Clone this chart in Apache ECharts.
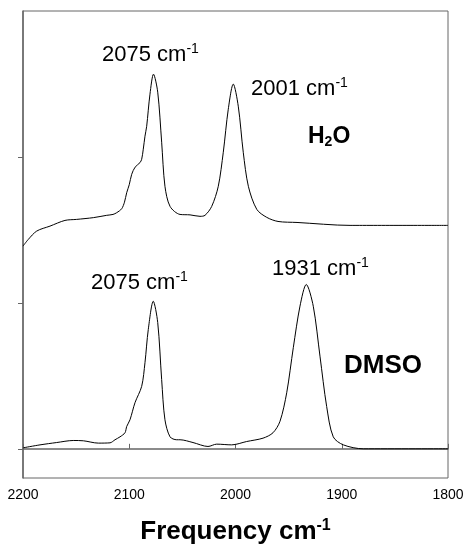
<!DOCTYPE html>
<html>
<head>
<meta charset="utf-8">
<script src="https://cdn.jsdelivr.net/npm/echarts@6/dist/echarts.min.js"></script>
<style>html,body{margin:0;padding:0;background:#fff;}#c{width:465px;height:544px;}</style>
</head>
<body>
<div id="c"></div>
<script>
// Frequency (cm-1) and intensity (offset units)
const h2oFreq = [2200, 2195.0, 2187.1, 2174.6, 2160.5, 2149.5, 2133.8, 2121.2, 2115.3, 2111.8, 2107.1, 2104.5, 2102.4, 2100.0, 2097.7, 2094.5, 2089.9, 2088.3, 2086.8, 2085.2, 2083.6, 2080.5, 2077.2, 2073.2, 2069.5, 2066.4, 2061.6, 2052.2, 2042.8, 2033.4, 2028.7, 2022.4, 2016.2, 2011.5, 2006.8, 2002.1, 1997.4, 1992.7, 1987.9, 1980.0, 1970.6, 1960.0, 1942.1, 1892.2, 1800];
const h2oVal  = [1.389, 1.435, 1.492, 1.526, 1.565, 1.572, 1.584, 1.600, 1.606, 1.618, 1.645, 1.690, 1.755, 1.810, 1.881, 1.930, 1.961, 1.984, 2.053, 2.142, 2.210, 2.430, 2.567, 2.444, 2.101, 1.799, 1.661, 1.606, 1.603, 1.593, 1.600, 1.661, 1.799, 2.032, 2.327, 2.499, 2.348, 2.032, 1.799, 1.641, 1.586, 1.558, 1.551, 1.531, 1.531];

const dmsoFreq = [2199.7, 2184.0, 2168.3, 2152.7, 2143.2, 2129.1, 2118.1, 2113.4, 2108.7, 2104.0, 2102.4, 2099.3, 2094.6, 2088.3, 2085.2, 2082.1, 2077.4, 2073.2, 2069.5, 2066.4, 2061.6, 2055.3, 2052.2, 2040.0, 2025.9, 2017.7, 2003.6, 1989.5, 1974.1, 1964.7, 1958.1, 1951.8, 1945.6, 1939.3, 1933.4, 1926.8, 1920.5, 1914.2, 1908.0, 1898.5, 1879.7, 1800];
const dmsoVal  = [0.007, 0.027, 0.043, 0.057, 0.055, 0.039, 0.041, 0.062, 0.082, 0.110, 0.153, 0.199, 0.316, 0.428, 0.590, 0.817, 1.011, 0.865, 0.474, 0.199, 0.082, 0.062, 0.062, 0.043, 0.016, 0.032, 0.027, 0.050, 0.073, 0.110, 0.189, 0.384, 0.693, 0.978, 1.126, 0.977, 0.635, 0.290, 0.082, 0.027, 0.000, 0.000];

const xTicks = [2200, 2100, 2000, 1900, 1800];
const yTicks = [0, 1, 2];

const pairs = (xs, ys) => xs.map((x, i) => [x, ys[i]]);
const FONT = 'Liberation Sans, Arial, sans-serif';
const axisColor = '#666';

const chart = echarts.init(document.getElementById('c'), null, {renderer: 'canvas'});
const labelRich = {
  a: {fontFamily: FONT, fontSize: 22, color: '#000', lineHeight: 25},
  s: {fontFamily: FONT, fontSize: 14, color: '#000', verticalAlign: 'top', lineHeight: 25}
};
function ann(txt, left, top) {
  return {type: 'text', left: left, top: top, z: 10,
    style: {text: '{a|' + txt + '}{s|-1}', rich: labelRich}};
}
chart.setOption({
  animation: false,
  backgroundColor: '#fff',
  grid: {left: 23, right: 17, top: 11, bottom: 66, show: true, borderColor: axisColor, borderWidth: 1,
         outerBoundsMode: 'none', containLabel: false},
  xAxis: {
    type: 'value', inverse: true, min: 1800, max: 2200, interval: 100,
    axisLine: {show: true, lineStyle: {color: axisColor, width: 1.5}},
    axisTick: {show: true, inside: true, length: 5, lineStyle: {color: axisColor}},
    axisLabel: {show: true, fontFamily: FONT, fontSize: 14, color: '#000', margin: 10,
      formatter: v => xTicks.includes(v) ? String(v) : ''},
    splitLine: {show: false},
    name: '{b|Frequency cm}{s|-1}',
    nameLocation: 'middle', nameGap: 40,
    nameTextStyle: {rich: {
      b: {fontFamily: FONT, fontSize: 26, fontWeight: 'bold', color: '#000', lineHeight: 28},
      s: {fontFamily: FONT, fontSize: 16, fontWeight: 'bold', color: '#000', verticalAlign: 'top', lineHeight: 28}
    }}
  },
  yAxis: {
    type: 'value', min: -0.2, max: 3,
    axisLine: {show: true, lineStyle: {color: axisColor, width: 1.5}},
    axisTick: {show: true, inside: false, length: 5, customValues: yTicks, lineStyle: {color: axisColor}},
    axisLabel: {show: false},
    splitLine: {show: false}
  },
  series: [
    {type: 'line', data: pairs(h2oFreq, h2oVal), smooth: 0.3, showSymbol: false,
     lineStyle: {color: '#000', width: 1}},
    {type: 'line', data: pairs(dmsoFreq, dmsoVal), smooth: 0.3, showSymbol: false,
     lineStyle: {color: '#000', width: 1}}
  ],
  graphic: [
    ann('2075 cm', 102, 42),
    ann('2001 cm', 251, 76),
    ann('2075 cm', 91, 270),
    ann('1931 cm', 272, 256),
    {type: 'text', left: 308, top: 125, z: 10, style: {
      text: '{h|H}{sub|2}{h|O}', rich: {
        h: {fontFamily: FONT, fontSize: 23, fontWeight: 'bold', color: '#000', lineHeight: 26},
        sub: {fontFamily: FONT, fontSize: 14, fontWeight: 'bold', color: '#000', verticalAlign: 'bottom', lineHeight: 26, padding: [7, 0, 0, 0]}
      }}},
    {type: 'text', left: 344, top: 353, z: 10, style: {
      text: 'DMSO', fontFamily: FONT, fontSize: 26, fontWeight: 'bold', fill: '#000'}}
  ]
});
</script>
</body>
</html>
